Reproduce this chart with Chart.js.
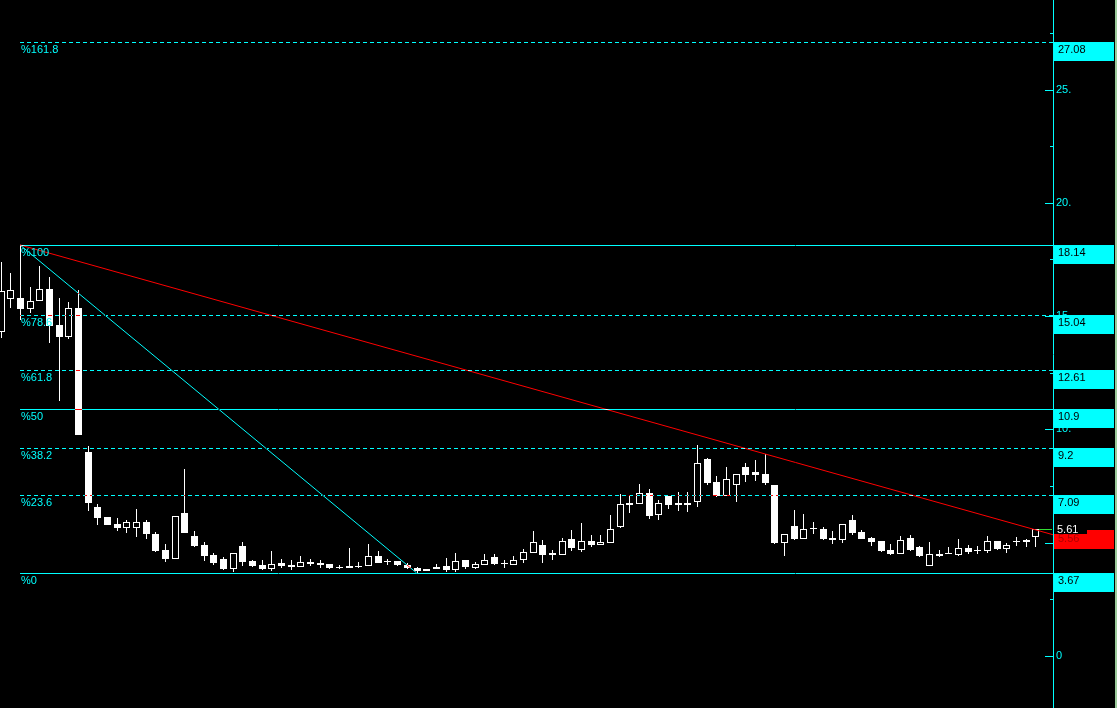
<!DOCTYPE html>
<html><head><meta charset="utf-8">
<script src="https://cdn.jsdelivr.net/npm/chart.js@4/dist/chart.umd.min.js"></script>
<style>html,body{margin:0;padding:0;background:#000;overflow:hidden}canvas{display:block}</style>
</head><body>
<canvas id="c" width="1117" height="708"></canvas>
<script>
// ---- data ----
const openP = [14.31,15.77,15.81,15.33,15.68,16.21,14.62,14.09,15.37,9.01,
6.58,6.14,5.83,5.65,5.65,5.92,5.39,4.68,4.28,6.32,
5.30,4.90,4.46,4.28,3.84,4.86,4.20,4.02,3.84,4.11,
4.02,3.93,4.15,4.11,4.06,3.90,3.89,3.94,3.98,4.42,
4.16,4.20,4.02,3.89,3.75,3.84,3.98,3.80,4.24,3.89,
4.02,4.37,4.11,4.02,4.24,4.55,4.90,4.55,4.46,5.17,
4.68,5.08,4.90,4.99,5.70,6.76,6.71,7.20,6.23,7.07,
6.76,6.76,6.80,8.70,7.69,7.07,7.55,8.35,8.13,8.04,
7.55,4.99,5.74,5.17,5.62,5.61,5.21,5.12,6.01,5.48,
5.21,5.08,4.68,4.51,5.21,4.81,3.98,4.51,4.55,4.46,
4.77,4.68,4.64,5.08,4.73,5.08,5.12,5.26];
const highP = [17.40,16.92,18.14,16.30,17.23,16.74,15.81,15.64,16.17,9.28,
6.71,6.14,6.10,6.01,6.49,6.01,5.48,4.95,6.18,8.26,
5.52,5.04,4.55,4.37,4.55,5.04,4.24,4.24,4.64,4.28,
4.24,4.42,4.28,4.24,4.06,4.02,4.77,4.15,4.95,4.64,
4.28,4.20,4.11,3.93,3.84,4.06,4.33,4.55,4.24,4.15,
4.51,4.51,4.24,4.42,4.73,5.52,5.12,4.68,5.21,5.57,
5.87,5.34,5.34,6.23,7.16,7.11,7.60,7.38,6.89,7.07,
7.24,7.24,9.32,8.75,7.95,8.35,8.04,8.52,8.66,8.92,
7.55,5.39,6.45,6.27,5.92,5.70,5.52,5.83,6.23,5.57,
5.26,5.08,4.95,5.30,5.34,4.86,5.04,4.68,4.81,5.17,
4.90,4.86,5.30,5.08,4.99,5.26,5.17,5.61];
const lowP = [14.05,15.37,14.84,15.15,15.68,13.83,11.26,14.00,9.76,6.40,
5.79,5.79,5.52,5.43,5.26,5.17,4.59,4.15,4.28,5.43,
4.81,4.20,4.02,3.80,3.71,3.98,3.93,3.80,3.75,3.89,
3.80,3.93,3.98,3.89,3.84,3.84,3.89,3.89,3.98,4.11,
4.02,3.98,3.84,3.67,3.75,3.84,3.71,3.71,3.84,3.84,
4.02,4.02,3.89,4.02,4.11,4.55,4.11,4.24,4.46,4.64,
4.59,4.81,4.90,4.99,5.65,6.32,6.71,6.05,6.01,6.49,
6.40,6.36,6.58,7.55,7.02,7.07,6.80,7.69,7.73,7.55,
4.95,4.42,5.12,5.17,5.39,5.12,4.95,4.99,5.34,5.17,
4.86,4.59,4.46,4.51,4.64,4.37,3.98,4.37,4.51,4.42,
4.51,4.51,4.55,4.68,4.55,4.86,4.81,4.81];
const closeP = [16.12,16.17,15.33,15.68,16.21,14.58,14.09,15.37,9.76,6.76,
6.10,5.79,5.65,5.92,5.92,5.39,4.64,4.28,6.18,5.43,
4.86,4.42,4.11,3.84,4.55,4.15,3.98,3.84,4.06,3.98,
3.93,4.15,4.06,4.02,3.89,3.89,3.98,3.93,4.42,4.11,
4.15,4.02,3.89,3.75,3.84,3.93,3.80,4.20,3.93,4.06,
4.24,4.06,4.06,4.24,4.59,5.04,4.46,4.46,5.08,4.77,
5.08,4.90,5.04,5.61,6.71,6.67,7.20,6.18,6.76,6.67,
6.67,6.67,8.52,7.64,7.07,7.82,8.04,7.99,7.99,7.64,
4.99,5.39,5.17,5.61,5.61,5.17,5.12,5.83,5.43,5.17,
5.04,4.64,4.51,5.12,4.68,4.42,4.51,4.42,4.51,4.77,
4.59,4.64,5.08,4.73,4.90,5.04,5.04,5.61];

const fibPct    = ['161.8','100','78.6','61.8','50','38.2','23.6','0'];
const fibLevels = [27.08, 18.14, 15.04, 12.61, 10.9, 9.2, 7.09, 3.67];
const fibStartIdx = 2;
const redTrend  = [{x:2, y:18.14}, {x:110, y:5.21}];
const cyanTrend = [{x:2, y:18.14}, {x:43, y:3.67}];
const yTickValues = [0, 2.5, 5, 7.5, 10, 12.5, 15, 17.5, 20, 22.5, 25, 27.5];
const yTickLabels = ['0', '', '5.', '', '10.', '', '15.', '', '20.', '', '25.', ''];
const markPrice = 5.56;

// ---- styles / layout ----
const CYAN = '#00FFFF';
const FONT = '11px "Liberation Sans", Arial, sans-serif';
const X_MIN = -0.07, X_MAX = 108.82, Y_MIN = -2.295, Y_MAX = 28.950;
const SOLID = new Set(['100', '50', '0']);

const idx = openP.map((_, i) => i);
const isUp = idx.map(i => closeP[i] > openP[i]);

const datasets = [];
fibLevels.forEach((L, k) => {
  datasets.push({
    type: 'line', kind: 'level', xor: true, order: 0, clip: 0,
    data: [{x: fibStartIdx, y: L}, {x: 110, y: L}],
    borderColor: CYAN, borderWidth: 1,
    borderDash: SOLID.has(fibPct[k]) ? [] : [4, 3],
    pointRadius: 0, tension: 0
  });
});
datasets.push({type: 'line', kind: 'trend', xor: true, order: 1, clip: 0, data: cyanTrend,
  borderColor: CYAN, borderWidth: 1, pointRadius: 0, tension: 0});
datasets.push({type: 'line', kind: 'trend', order: 1, clip: 0, data: redTrend,
  borderColor: '#FF0000', borderWidth: 1, pointRadius: 0, tension: 0});
datasets.push({type: 'bar', kind: 'body', order: 3,
  data: idx.map(i => ({x: i, y: [openP[i], closeP[i]]})),
  backgroundColor: idx.map(i => isUp[i] ? '#000000' : '#FFFFFF'),
  borderColor: '#FFFFFF', borderWidth: 1, borderSkipped: false,
  barThickness: 7, grouped: false, inflateAmount: 0, minBarLength: 1});
datasets.push({type: 'bar', kind: 'wick', order: 4,
  data: idx.map(i => ({x: i, y: [lowP[i], highP[i]]})),
  backgroundColor: '#FFFFFF', borderWidth: 0,
  barThickness: 1, grouped: false, inflateAmount: 0, minBarLength: 1});

const snapPlugin = {
  id: 'snap',
  afterDatasetUpdate(chart, args) {
    const ds = chart.data.datasets[args.index];
    args.meta.data.forEach(el => {
      if (ds.kind === 'wick' || ds.kind === 'body') {
        el.x = Math.round(el.x) + 0.5;
        el.width = ds.kind === 'wick' ? 1 : 7;
        let t = Math.round(Math.min(el.y, el.base));
        let b = Math.round(Math.max(el.y, el.base));
        if (b - t < 1) b = t + 1;
        el.y = t; el.base = b;
      } else if (ds.kind === 'level') {
        el.y = Math.round(el.y) + 0.5;
      }
    });
  },
  beforeDraw(chart) {
    const ctx = chart.ctx;
    ctx.save(); ctx.fillStyle = '#000'; ctx.fillRect(0, 0, chart.width, chart.height); ctx.restore();
  },
  beforeDatasetDraw(chart, args) {
    const ds = chart.data.datasets[args.index];
    if (ds.xor) chart.ctx.globalCompositeOperation = 'difference';
  },
  afterDatasetDraw(chart) {
    chart.ctx.globalCompositeOperation = 'source-over';
  },
  afterDraw(chart) {
    const ctx = chart.ctx, ys = chart.scales.y, R = chart.chartArea.right;
    ctx.save();
    ctx.strokeStyle = CYAN; ctx.lineWidth = 1;
    yTickValues.forEach((v, k) => {
      const Y = Math.round(ys.getPixelForValue(v)) + 0.5;
      const len = yTickLabels[k] ? 8 : 3;
      ctx.beginPath(); ctx.moveTo(R - len, Y); ctx.lineTo(R, Y); ctx.stroke();
    });
    ctx.font = FONT; ctx.textAlign = 'left'; ctx.textBaseline = 'alphabetic';
    fibLevels.forEach((L, k) => {
      const Y = Math.round(ys.getPixelForValue(L));
      ctx.fillStyle = CYAN;
      ctx.fillText('%' + fibPct[k], 21, Y + 11);
      ctx.fillRect(R + 1, Y, 60, 19);
      ctx.fillStyle = '#000';
      ctx.fillText(String(L), R + 5, Y + 11);
    });
    const Ym = Math.round(ys.getPixelForValue(markPrice));
    ctx.fillStyle = '#FF0000'; ctx.fillRect(R + 1, Ym, 60, 19);
    ctx.fillStyle = '#B00000'; ctx.fillText(markPrice.toFixed(2), R + 5, Ym + 12);
    const last = closeP[closeP.length - 1];
    const Yc = Math.round(ys.getPixelForValue(last));
    ctx.fillStyle = '#000'; ctx.fillRect(R + 1, Yc - 7, 33, 12);
    ctx.fillStyle = '#FFFFFF'; ctx.fillText(last.toFixed(2), R + 4, Yc + 4);
    ctx.strokeStyle = '#33DD33';
    ctx.beginPath(); ctx.moveTo(R - 14, Yc + 0.5); ctx.lineTo(R - 1, Yc + 0.5); ctx.stroke();
    ctx.fillStyle = '#9CCB9C'; ctx.fillRect(chart.width - 2, 0, 2, chart.height);
    ctx.restore();
  }
};

new Chart(document.getElementById('c'), {
  type: 'bar',
  data: {datasets},
  options: {
    responsive: false, maintainAspectRatio: false, animation: false,
    devicePixelRatio: 1, events: [],
    layout: {padding: 0},
    plugins: {legend: {display: false}, tooltip: {enabled: false}},
    scales: {
      x: {type: 'linear', min: X_MIN, max: X_MAX, display: false, offset: false, grid: {offset: false}},
      y: {
        type: 'linear', position: 'right', min: Y_MIN, max: Y_MAX,
        afterBuildTicks: s => { s.ticks = yTickValues.map(v => ({value: v})); },
        afterFit: s => { s.width = 64; s.paddingTop = 0; s.paddingBottom = 0; },
        grid: {display: true, drawOnChartArea: false, drawTicks: false},
        border: {display: true, color: CYAN, width: 1},
        ticks: {
          color: CYAN, padding: 3, autoSkip: false,
          font: {family: '"Liberation Sans", Arial, sans-serif', size: 11},
          callback: v => { const k = yTickValues.indexOf(v); return k >= 0 ? yTickLabels[k] : ''; }
        }
      }
    }
  },
  plugins: [snapPlugin]
});
</script>
</body></html>
